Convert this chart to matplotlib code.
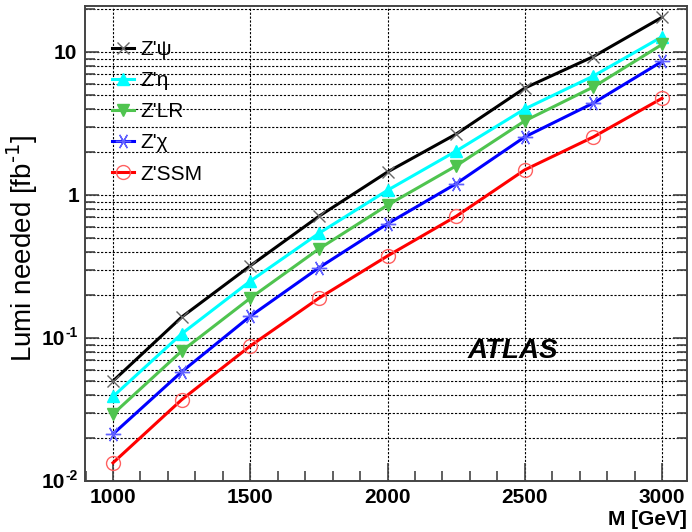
import math
import matplotlib
matplotlib.use("Agg")
import matplotlib.pyplot as plt
import matplotlib.transforms as mtransforms
from matplotlib.ticker import FixedLocator, LogLocator, NullFormatter, MultipleLocator

plt.rcParams['font.family'] = ['Liberation Sans', 'DejaVu Sans']
plt.rcParams['mathtext.default'] = 'regular'

mass = [1000, 1250, 1500, 1750, 2000, 2250, 2500, 2750, 3000]
z_psi = [0.050, 0.140, 0.32, 0.71, 1.45, 2.67, 5.6, 9.3, 17.5]
z_eta = [0.039, 0.107, 0.25, 0.54, 1.08, 2.03, 4.0, 6.8, 12.8]
z_lr = [0.0294, 0.081, 0.19, 0.42, 0.85, 1.60, 3.3, 5.7, 11.3]
z_chi = [0.0213, 0.058, 0.142, 0.31, 0.63, 1.20, 2.55, 4.4, 8.6]
z_ssm = [0.0134, 0.037, 0.088, 0.19, 0.375, 0.71, 1.50, 2.55, 4.75]

labels = ["Z'\u03c8", "Z'\u03b7", "Z'LR", "Z'\u03c7", "Z'SSM"]
series = [z_psi, z_eta, z_lr, z_chi, z_ssm]

y_major = [0.01, 0.1, 1, 10]
y_tick_base = ["10", "10", "1", "10"]
y_tick_exp = ["-2", "-1", "", ""]

fig = plt.figure(figsize=(6.92, 5.32), dpi=100)
ax = fig.add_axes([85/692, 1-481/532, (687-85)/692, (481-6)/532])

styles = [
    dict(color='black', marker='x', mec='#666666', mfc='none', ms=9, mew=1.0),
    dict(color='#00ffff', marker='^', mec='#00ffff', mfc='#00ffff', ms=9),
    dict(color='#4fc44f', marker='v', mec='#4fc44f', mfc='#4fc44f', ms=9),
    dict(color='#0000ff', marker=(6, 2, 90), mec='#6060ff', mfc='none', ms=11, mew=1.0),
    dict(color='#ff0000', marker='o', mec='#ff6060', mfc='none', ms=10, mew=1.0),
]
for y, lab, st in zip(series, labels, styles):
    ax.plot(mass, y, lw=2.2, label=lab, **st)

ax.set_yscale('log')
ax.set_xlim(898, 3091)
ax.set_ylim(0.01, 21)

ax.yaxis.set_major_locator(FixedLocator(y_major))
ax.yaxis.set_minor_locator(LogLocator(base=10, subs=range(2, 10), numticks=20))
ax.xaxis.set_major_locator(MultipleLocator(500))
ax.xaxis.set_minor_locator(MultipleLocator(100))
ax.yaxis.set_major_formatter(NullFormatter())
ax.yaxis.set_minor_formatter(NullFormatter())

# manual ROOT-style y tick labels
blend = mtransforms.blended_transform_factory(ax.transAxes, ax.transData)
for v, base, ex in zip(y_major, y_tick_base, y_tick_exp):
    if ex:
        tr = blend + mtransforms.ScaledTranslation(-20/100, -7/100, fig.dpi_scale_trans)
        ax.text(0, v, base, transform=tr, ha='right', va='baseline',
                fontsize=15, fontweight='bold', clip_on=False)
        tr2 = blend + mtransforms.ScaledTranslation(-19/100, 1/100, fig.dpi_scale_trans)
        ax.text(0, v, ex, transform=tr2, ha='left', va='baseline',
                fontsize=10, fontweight='bold', clip_on=False)
    else:
        off = -6/100 if base == "1" else -8/100
        tr = blend + mtransforms.ScaledTranslation(off, -7/100, fig.dpi_scale_trans)
        ax.text(0, v, base, transform=tr, ha='right', va='baseline',
                fontsize=15, fontweight='bold', clip_on=False)

ax.grid(True, which='major', axis='x', color='black', ls=(0, (2, 1.5)), lw=0.8)
ax.grid(True, which='both', axis='y', color='black', ls=(0, (2, 1.5)), lw=0.8)
ax.set_axisbelow(True)

for s in ax.spines.values():
    s.set_color('#444444')
    s.set_linewidth(1.4)

ax.tick_params(axis='both', which='both', direction='in', color='#444444', width=1.2)
ax.tick_params(axis='y', which='both', right=True, left=True)
ax.tick_params(axis='y', which='major', length=10)
ax.tick_params(axis='y', which='minor', length=7)
ax.tick_params(axis='x', which='major', length=13, top=False)
ax.tick_params(axis='x', which='minor', length=7, top=False)
ax.tick_params(axis='x', which='major', pad=5, labelsize=15)
for t in ax.get_xticklabels():
    t.set_fontweight('bold')

ax.set_ylabel(r"Lumi needed [fb$^{\text{-1}}$]", fontsize=20)
ax.yaxis.set_label_coords(-0.074, 0.49)

ax.text(1.0, -0.082, "M [GeV]", transform=ax.transAxes, ha='right', va='center',
        fontsize=15, fontweight='bold')
ax.text(2456, 0.081, "ATLAS", ha='center', va='center', fontsize=20,
        fontweight='bold', fontstyle='italic')

leg = ax.legend(loc='upper left', bbox_to_anchor=(0.045, 0.928), frameon=False,
                fontsize=15, handlelength=1.05, handletextpad=0.3,
                labelspacing=0.58, borderaxespad=0, borderpad=0)

fig.savefig("out.png", dpi=100)
